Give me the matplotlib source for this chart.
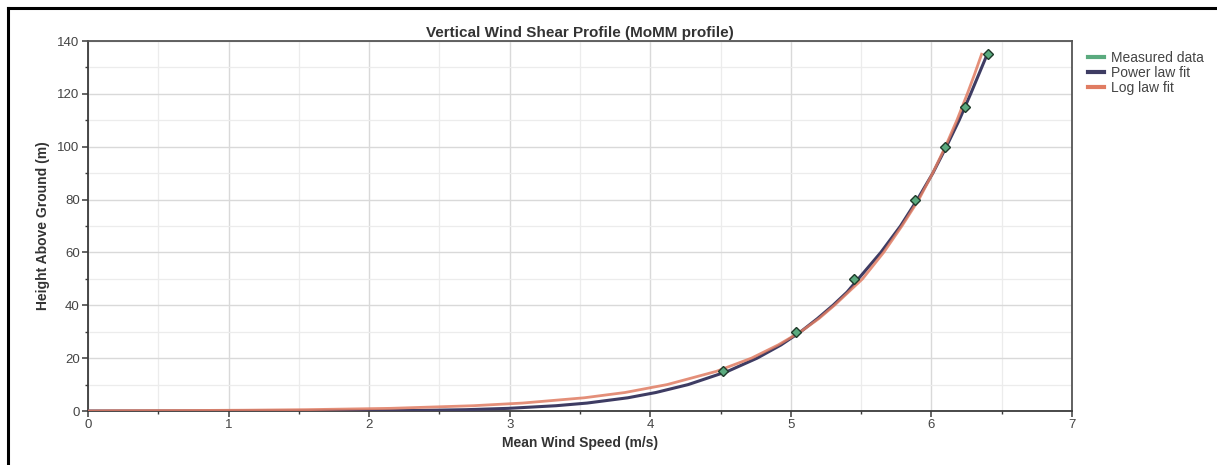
import matplotlib
matplotlib.use("Agg")
import matplotlib.pyplot as plt
from matplotlib.lines import Line2D
from matplotlib.ticker import MultipleLocator

plt.rcParams['font.family'] = ['Liberation Sans', 'DejaVu Sans']

# Measured data (green diamonds)
meas_speed = [4.52, 5.04, 5.45, 5.88, 6.10, 6.24, 6.40]
meas_height = [15, 30, 50, 80, 100, 115, 135]

# Power law fit curve
pow_speed = [0.0, 1.46, 2.09, 2.33, 2.69, 2.99, 3.33, 3.55, 3.84, 4.04, 4.27, 4.55,
             4.76, 4.93, 5.07, 5.19, 5.30, 5.40, 5.48, 5.64, 5.78, 5.90, 6.01, 6.106,
             6.197, 6.279, 6.334, 6.397]
pow_height = [0.0, 0.01, 0.1, 0.2, 0.5, 1, 2, 3, 5, 7, 10, 15,
              20, 25, 30, 35, 40, 45, 50, 60, 70, 80, 90, 100,
              110, 120, 127, 135]

# Log law fit curve
log_speed = [0.0, 0.17, 0.77, 1.12, 1.55, 2.15, 2.74, 3.09, 3.53, 3.82, 4.12, 4.47,
             4.72, 4.91, 5.07, 5.20, 5.31, 5.41, 5.51, 5.66, 5.79, 5.91, 6.009, 6.099,
             6.181, 6.255, 6.304, 6.357]
log_height = [0.0, 0.1, 0.2, 0.3, 0.5, 1, 2, 3, 5, 7, 10, 15,
              20, 25, 30, 35, 40, 45, 50, 60, 70, 80, 90, 100,
              110, 120, 127, 135]

x_ticks = [0, 1, 2, 3, 4, 5, 6, 7]
y_ticks = [0, 20, 40, 60, 80, 100, 120, 140]

fig = plt.figure(figsize=(12.17, 4.65), dpi=100)
ax = fig.add_axes([88/1217, 1 - 411/465, (1072-88)/1217, (411-41)/465])

ax.plot(pow_speed, pow_height, color='#3e3c63', lw=2.2, zorder=3, solid_joinstyle='round')
ax.plot(log_speed, log_height, color='#e07c62', lw=2.0, alpha=0.85, zorder=4, solid_joinstyle='round')
ax.plot(meas_speed, meas_height, linestyle='none', marker='D', markersize=5,
        markerfacecolor='#5aaa7e', markeredgecolor='#1f3a2a', markeredgewidth=1.0, zorder=5)

ax.set_xlim(0, 7)
ax.set_ylim(0, 140)
ax.set_xticks(x_ticks)
ax.set_yticks(y_ticks)
ax.xaxis.set_minor_locator(MultipleLocator(0.5))
ax.yaxis.set_minor_locator(MultipleLocator(10))
ax.grid(which='major', color='#d9d9d9', lw=1.0)
ax.grid(which='minor', color='#ececec', lw=0.9)
ax.set_axisbelow(True)

for s in ax.spines.values():
    s.set_color('#3a3a3a')
    s.set_linewidth(1.3)
ax.spines['top'].set_color('#555555')
ax.spines['right'].set_color('#555555')

ax.tick_params(which='major', direction='out', length=4, width=1.1, color='#3a3a3a',
               labelsize=9.5, labelcolor='#444444', pad=2)
ax.tick_params(which='minor', direction='out', length=2.5, width=1.0, color='#3a3a3a')

ax.set_title('Vertical Wind Shear Profile (MoMM profile)', fontsize=11, fontweight='bold',
             color='#333333', pad=3)
ax.set_xlabel('Mean Wind Speed (m/s)', fontsize=10, fontweight='bold', color='#333333', labelpad=3)
ax.set_ylabel('Height Above Ground (m)', fontsize=10, fontweight='bold', color='#333333', labelpad=5)

handles = [Line2D([0], [0], color='#5aaa7e', lw=3),
           Line2D([0], [0], color='#3e3c63', lw=3),
           Line2D([0], [0], color='#e07c62', lw=3)]
fig.legend(handles, ['Measured data', 'Power law fit', 'Log law fit'],
           loc='upper left', bbox_to_anchor=(1075/1217, 1 - 38/465), frameon=False,
           fontsize=10, handlelength=1.2, handletextpad=0.5, labelspacing=0.1,
           labelcolor='#444444')

# outer frame
fig.add_artist(Line2D([8/1217, 8/1217], [0, 1 - 8/465], transform=fig.transFigure,
                      color='black', lw=2.2))
fig.add_artist(Line2D([8/1217, 1], [1 - 8/465, 1 - 8/465], transform=fig.transFigure,
                      color='black', lw=2.2))

fig.savefig('out.png', dpi=100)
